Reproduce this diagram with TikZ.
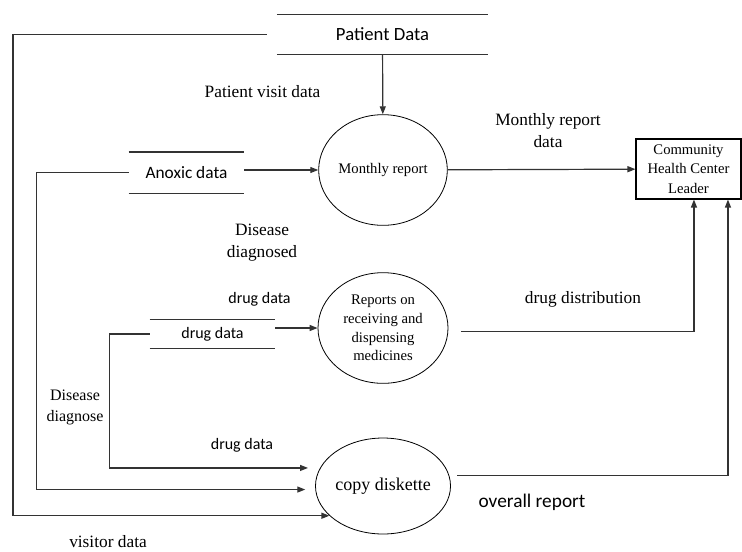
\documentclass[tikz,border=0pt]{standalone}
\usepackage{fontspec}
\setmainfont{Liberation Serif}
\newfontfamily\calibri{Carlito}
\usetikzlibrary{shapes.geometric,arrows.meta}

\begin{document}
\begin{tikzpicture}[x=0.75pt,y=-0.75pt,
    >={Triangle[length=6pt,width=4.5pt]},
    flow/.style={line width=0.9pt,draw=black!80},
    process node/.style={ellipse,draw,line width=0.6pt,inner sep=0pt,align=center,font=\fontsize{11}{14}\selectfont},
    store node/.style={inner sep=0pt,font=\calibri\fontsize{12}{14}\selectfont},
    entity node/.style={rectangle,draw,line width=0.8pt,inner sep=0pt,align=center,font=\fontsize{11}{14.5}\selectfont},
    serif label/.style={align=center,font=\fontsize{13}{17}\selectfont},
    sans label/.style={font=\calibri\fontsize{12}{14}\selectfont}]
    \useasboundingbox (0,0) rectangle (742,551);

    \node[store node,minimum width=158pt,minimum height=29.25pt,font=\calibri\fontsize{14}{16}\selectfont] (pd) at (382.5,34.5) {Patient Data};
    \node[store node,minimum width=86.25pt,minimum height=30.5pt,font=\calibri\fontsize{13}{15}\selectfont] (ax) at (186.5,172.5) {Anoxic data};
    \node[store node,minimum width=93.75pt,minimum height=21pt] (ds) at (212.5,334) {drug data};

    \node[process node,minimum width=96.5pt,minimum height=83pt] (mr) at (383,170) {Monthly report};
    \node[process node,minimum width=97.5pt,minimum height=83pt] (rep) at (383,328) {Reports on\\receiving and\\dispensing\\medicines};
    \node[process node,minimum width=90pt,minimum height=72pt,font=\fontsize{13.5}{16}\selectfont] (cd) at (383,486) {copy diskette};

    \node[entity node,minimum width=78.75pt,minimum height=45pt] (ldr) at (688.5,169) {Community\\Health Center\\Leader};

    \node[serif label] (pvd) at (262.5,92) {Patient visit data};
    \node[serif label] (mrd) at (548,130.5) {Monthly report\\data};
    \node[serif label,font=\fontsize{13}{16.5}\selectfont] (dd) at (262,243) {Disease\\diagnosed};
    \node[sans label] (dgd) at (259.5,299) {drug data};
    \node[serif label] (dgdist) at (583,299) {drug distribution};
    \node[serif label,font=\fontsize{12}{15.75}\selectfont] (ddl) at (75,407.5) {Disease\\diagnose};
    \node[sans label] (dgd2) at (242,445) {drug data};
    \node[sans label,font=\calibri\fontsize{14.5}{16}\selectfont] (ovr) at (532,502) {overall report};
    \node[serif label] (vis) at (108,542) {visitor data};

    % data store lines
    \foreach \s in {pd,ax,ds}
      \draw[flow] (\s.north west) -- (\s.north east) (\s.south west) -- (\s.south east);

    \path[every edge/.style={flow,->}]
    (pd) edge (mr)
    (ax.east |- mr.west) edge (mr.west)
    (mr) edge (ldr)
    (ds.east |- rep.west) edge (rep.west);

    \draw[flow,->,shorten <=9.5pt] (rep.357) -| ([xshift=4.1pt]ldr.south);
    \draw[flow,->,shorten <=6pt] (cd.9) -| ([xshift=29.6pt]ldr.south);

    \draw[flow,->,shorten <=7.5pt] (pd.west) -- ++(-264,0) |- (cd.209);
    \draw[flow,->,shorten >=7.5pt] (ax.west) -- ++(-92,0) |- (cd.183);
    \draw[flow,->,shorten >=9pt] (ds.west) -- ++(-40,0) |- (cd.164);
  \end{tikzpicture}
\end{document}
